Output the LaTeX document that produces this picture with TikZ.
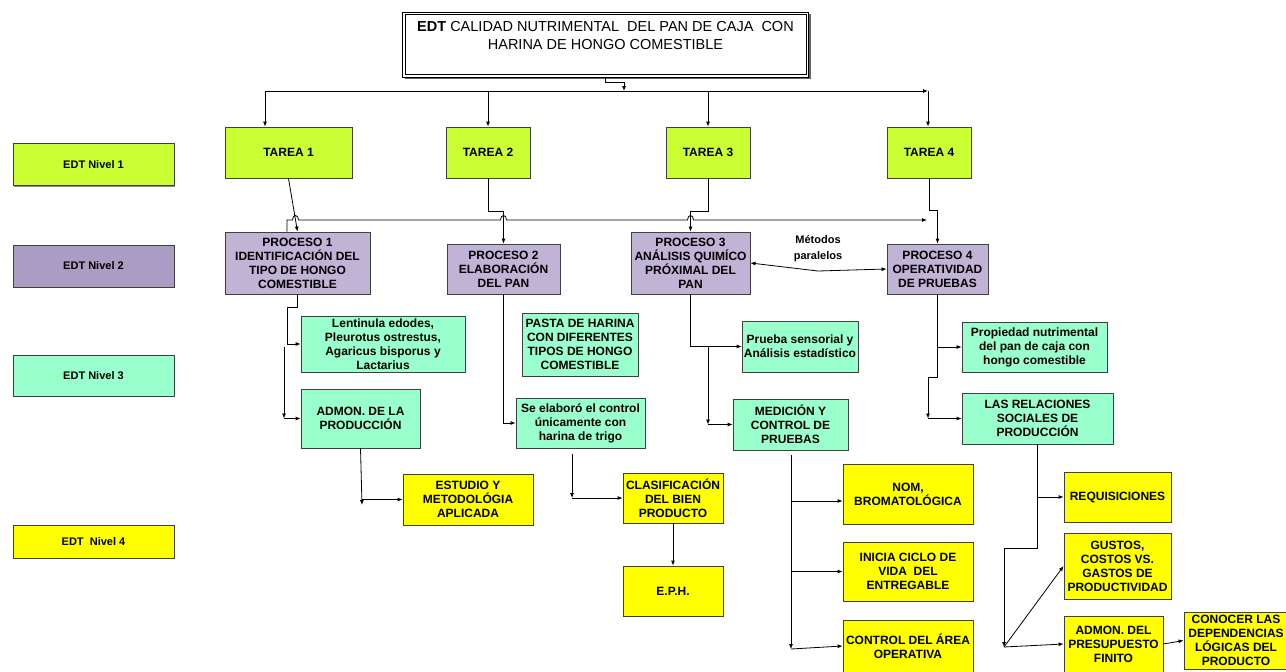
\documentclass[tikz,border=0pt]{standalone}
\usepackage{fontspec}
\setmainfont{Liberation Sans}
\usetikzlibrary{arrows.meta, shadows}
\definecolor{verdeA}{HTML}{CCFF33}
\definecolor{lilaP}{HTML}{C0B3D6}
\definecolor{lilaN}{HTML}{AA9CC2}
\definecolor{aguaC}{HTML}{99FFCC}
\definecolor{amarilloD}{HTML}{FFFF00}

\begin{document}
\begin{tikzpicture}[x=1pt, y=-1pt, line width=0.8pt, >={Latex[length=5pt,width=4pt]},
  caja/.style={draw=black!75, align=center, inner sep=1pt, font=\bfseries\fontsize{12}{14}\selectfont,
    drop shadow={shadow xshift=1pt, shadow yshift=-1pt, fill=black!45, opacity=1}},
  nivelA/.style={caja, fill=verdeA},
  nivelB/.style={caja, fill=lilaP},
  nivelC/.style={caja, fill=aguaC},
  nivelD/.style={caja, fill=amarilloD},
  etiqueta/.style={caja, minimum width=161pt, font=\bfseries\fontsize{11}{13}\selectfont}]
\useasboundingbox (0,0) rectangle (1286,672);

% titulo
\node[fill=white, minimum width=405pt, minimum height=64pt, align=center,
  font=\fontsize{14.5}{18}\selectfont] (titulo) at (605.5,44.5)
  {\textbf{EDT} CALIDAD NUTRIMENTAL\ \ DEL PAN DE CAJA\ \ CON\\HARINA DE HONGO COMESTIBLE\\\mbox{}};
\draw[black!60, line width=1.6pt] ([shift={(2,1.5)}]titulo.south west) -- ([shift={(1.5,1.5)}]titulo.south east) -- ([shift={(1.5,2)}]titulo.north east);
\draw[line width=0.8pt] (titulo.north west) rectangle (titulo.south east);
\draw[line width=0.6pt] ([shift={(2.5,2.5)}]titulo.north west) rectangle ([shift={(-2.5,-2.5)}]titulo.south east);

% niveles
\node[etiqueta, fill=verdeA, minimum height=42pt] (n1) at (93.5,164.5) {EDT Nivel 1};
\node[etiqueta, fill=lilaN, minimum height=42pt] (n2) at (93.5,266) {EDT Nivel 2};
\node[etiqueta, fill=aguaC, minimum height=41pt] (n3) at (93.5,375.5) {EDT Nivel 3};
\node[etiqueta, fill=amarilloD, minimum height=33pt] (n4) at (93.5,541.5) {EDT\ \ Nivel 4};

% nivel 1
\node[nivelA, minimum width=127pt, minimum height=51pt] (t1) at (288.5,152.5) {TAREA 1};
\node[nivelA, minimum width=84pt, minimum height=51pt] (t2) at (488,152.5) {TAREA 2};
\node[nivelA, minimum width=84pt, minimum height=51pt] (t3) at (708,152.5) {TAREA 3};
\node[nivelA, minimum width=84pt, minimum height=51pt] (t4) at (929,152.5) {TAREA 4};

% nivel 2
\node[nivelB, minimum width=145pt, minimum height=62pt] (p1) at (297.5,263) {PROCESO 1\\IDENTIFICACIÓN DEL\\TIPO DE HONGO\\COMESTIBLE};
\node[nivelB, minimum width=113pt, minimum height=50pt] (p2) at (503.5,269) {PROCESO 2\\ELABORACIÓN\\DEL PAN};
\node[nivelB, minimum width=119pt, minimum height=62pt] (p3) at (690.5,263) {PROCESO 3\\ANÁLISIS QUIMÍCO\\PRÓXIMAL DEL\\PAN};
\node[nivelB, minimum width=101pt, minimum height=50pt] (p4) at (937.5,269) {PROCESO 4\\OPERATIVIDAD\\DE PRUEBAS};
\node[font=\bfseries\fontsize{11}{16}\selectfont, align=center] (metodos) at (818,249) {Métodos\\paralelos};

% nivel 3
\node[nivelC, minimum width=164pt, minimum height=56pt] (lent) at (383,344) {Lentinula edodes,\\Pleurotus ostrestus,\\Agaricus bisporus y\\Lactarius};
\node[nivelC, minimum width=119pt, minimum height=59pt] (admon) at (360.5,418.5) {ADMON. DE LA\\PRODUCCIÓN};
\node[nivelC, minimum width=116pt, minimum height=63pt] (pasta) at (580,344.5) {PASTA DE HARINA\\CON DIFERENTES\\TIPOS DE HONGO\\COMESTIBLE};
\node[nivelC, minimum width=129pt, minimum height=50pt] (seel) at (580.5,423) {Se elaboró el control\\únicamente con\\harina de trigo};
\node[nivelC, minimum width=116pt, minimum height=51pt] (prueba) at (800,346.5) {Prueba sensorial y\\Análisis estadístico};
\node[nivelC, minimum width=115pt, minimum height=51pt] (medic) at (790.5,424.5) {MEDICIÓN Y\\CONTROL DE\\PRUEBAS};
\node[nivelC, minimum width=145pt, minimum height=50pt] (prop) at (1034.5,347) {Propiedad nutrimental\\del pan de caja con\\hongo comestible};
\node[nivelC, minimum width=151pt, minimum height=51pt] (relac) at (1037.5,418.5) {LAS RELACIONES\\SOCIALES DE\\PRODUCCIÓN};

% nivel 4
\node[nivelD, minimum width=130pt, minimum height=51pt] (estudio) at (468,499.5) {ESTUDIO Y\\METODOLÓGIA\\APLICADA};
\node[nivelD, minimum width=100pt, minimum height=50pt] (clasif) at (673,498) {CLASIFICACIÓN\\DEL BIEN\\PRODUCTO};
\node[nivelD, minimum width=100pt, minimum height=50pt] (eph) at (673,591) {E.P.H.};
\node[nivelD, minimum width=130pt, minimum height=60pt] (nom) at (908,494) {NOM,\\BROMATOLÓGICA};
\node[nivelD, minimum width=130pt, minimum height=59pt] (inicia) at (908,571.5) {INICIA CICLO DE\\VIDA\ \ DEL\\ENTREGABLE};
\node[nivelD, minimum width=130pt, minimum height=52pt] (control) at (908,646) {CONTROL DEL ÁREA\\OPERATIVA};
\node[nivelD, minimum width=107pt, minimum height=50pt] (requis) at (1117.5,497) {REQUISICIONES};
\node[nivelD, minimum width=107pt, minimum height=66pt] (gustos) at (1117.5,566) {GUSTOS,\\COSTOS VS.\\GASTOS DE\\PRODUCTIVIDAD};
\node[nivelD, minimum width=99pt, minimum height=56pt] (admdel) at (1113.5,644) {ADMON. DEL\\PRESUPUESTO\\FINITO};
\node[nivelD, minimum width=104pt, minimum height=57pt] (conocer) at (1236,640.5) {CONOCER LAS\\DEPENDENCIAS\\LÓGICAS DEL\\PRODUCTO};

% titulo -> tareas
\coordinate (b0) at (624,91);
\coordinate (b1) at (265,91);
\coordinate (b4) at (928,91);
\draw[->] (titulo.south) -- ++(0,5) -| (b0);
\draw[->] (b1) -- (b4);
\draw[->] (b1) -- (b1 |- t1.north);
\draw[->] (t2.north |- b1) -- (t2.north);
\draw[->] (t3.north |- b1) -- (t3.north);
\draw[->] (b4) -- (b4 |- t4.north);

% tareas -> procesos
\coordinate (h1) at (287,220);
\draw[->] (p1.north -| h1) -- (h1) -- (292.5,220) .. controls (292.5,214) and (298.5,214) .. (298.5,220)
  -- (500.5,220) .. controls (500.5,214) and (506.5,214) .. (506.5,220)
  -- (687.5,220) .. controls (687.5,214) and (693.5,214) .. (693.5,220) -- (927,220);
\draw[->] (t1.south) -- (p1.north);
\draw[->] (t2.south) -- ++(0,33) -| (p2.north);
\draw[->] (t3.south) -- ++(0,33) -| (p3.north);
\draw[->] (t4.south) -- ++(0,32) -| (p4.north);
\coordinate (m1) at (818,271);
\draw[<->] (p3.east) -- (m1) -- (p4.west);

% proceso 1
\draw[->] (p1.south) -- ++(0,13) -| ([xshift=-13pt]lent.west) -- (lent.west);
\coordinate (a1) at (284,347);
\draw[->] (a1) -- (a1 |- admon.west);
\draw[->] (a1 |- admon.west) -- (admon.west);
\coordinate (a2) at (362,505);
\draw[->] (admon.south) -- (a2);
\draw[->] (a2 |- estudio.west) -- (estudio.west);

% proceso 2
\draw[->] (p2.south) |- (seel.west);
\coordinate (a3) at (572,454);
\draw[->] (a3) -- (a3 |- clasif.west);
\draw[->] (a3 |- clasif.west) -- (clasif.west);
\draw[->] (clasif) -- (eph);

% proceso 3
\draw[->] (p3.south) |- (prueba.west);
\coordinate (a4) at (708,347);
\draw[->] (a4) -- (a4 |- medic.west);
\draw[->] (a4 |- medic.west) -- (medic.west);
\coordinate (a5) at (791,455);
\coordinate (a6) at (791,649);
\coordinate (r1) at (791,501);
\draw[->] (a5) -- (a6);
\draw[->] (r1) -- (r1 -| nom.west);
\draw[->] (a5 |- inicia.west) -- (inicia.west);
\draw[->] (a6) -- (control.west);

% proceso 4
\coordinate (a7) at (937.5,377);
\coordinate (a8) at (928,377);
\draw (p4.south) -- (a7) -- (a8);
\draw[->] (p4.south |- prop.west) -- (prop.west);
\draw[->] (a8) -- (a8 |- relac.west);
\draw[->] (a8 |- relac.west) -- (relac.west);
\coordinate (a9) at (1037.5,548);
\coordinate (a10) at (1004,647);
\draw[->] (relac.south) -- (a9) -- (a9 -| a10) -- (a10);
\draw[->] (relac.south |- requis.west) -- (requis.west);
\draw[->] (a10) -- (gustos.west);
\draw[->] (a10) -- (admdel.west);
\draw[->] (admdel.east) -- (conocer.west);
\end{tikzpicture}
\end{document}
